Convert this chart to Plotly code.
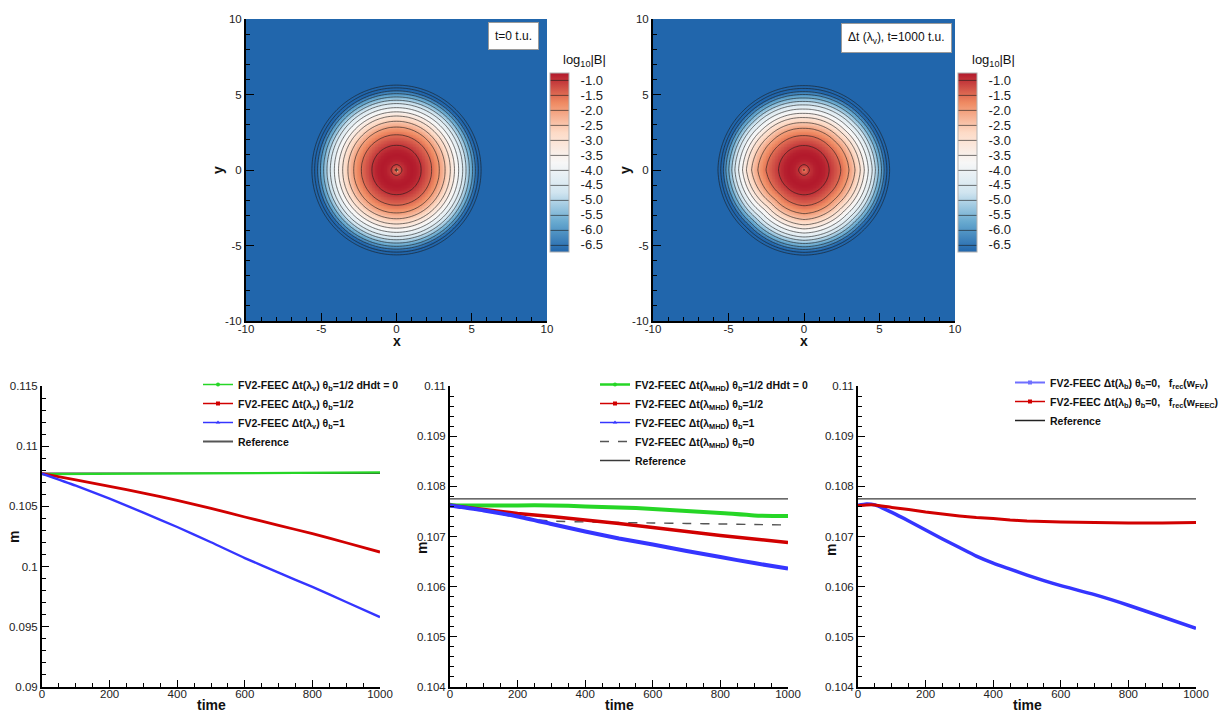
import numpy as np
import plotly.graph_objects as go

W, H = 1226, 715

# ---------------- data: magnetic field contours ----------------
prof_r = [0.0, 0.1, 0.33, 0.7, 1.0, 1.3, 1.64, 2.34, 2.85, 3.23, 3.58, 3.85, 4.13,
          4.40, 4.62, 4.84, 5.06, 5.24, 5.44, 5.62, 5.8, 15.0]
prof_t0 = [-3.0, -1.52, -1.0, -0.80, -0.76, -0.82, -1.0, -1.5, -2.0, -2.5, -3.0, -3.5, -4.0,
           -4.5, -5.0, -5.5, -6.0, -6.5, -7.0, -7.5, -8.0, -8.0]
prof_t1000 = [-1.6, -1.40, -1.0, -0.80, -0.76, -0.82, -1.0, -1.5, -2.0, -2.5, -3.0, -3.5, -4.0,
              -4.5, -5.0, -5.5, -6.0, -6.5, -7.0, -7.5, -8.0, -8.0]
# angular deformation of the rings at t=1000 (relative radius change) and its radial weight
defm_theta = [0, 45, 90, 135, 180, 225, 270, 315, 360]
defm_amp = [-0.045, 0.02, 0.03, 0.0, -0.07, 0.045, -0.015, 0.015, -0.045]
defm_r = [0.0, 1.5, 2.5, 3.5, 4.5, 5.5, 15.0]
defm_w = [0.0, 0.3, 1.0, 1.0, 0.6, 0.2, 0.0]

cb_ticks = [-1.0, -1.5, -2.0, -2.5, -3.0, -3.5, -4.0, -4.5, -5.0, -5.5, -6.0, -6.5]
axis_ticks = [-10, -5, 0, 5, 10]

# ---------------- data: mass m(t) curves ----------------
t11 = [0, 100, 200, 300, 400, 500, 600, 700, 800, 900, 1000]
p1_green = [0.10768, 0.10769, 0.10770, 0.10771, 0.10773, 0.10774, 0.10776, 0.10777, 0.10779, 0.10780, 0.10782]
p1_red = [0.10772, 0.10720, 0.10667, 0.10610, 0.10550, 0.10484, 0.10412, 0.10343, 0.10273, 0.10198, 0.10121]
p1_blue = [0.10772, 0.10672, 0.10564, 0.10448, 0.10329, 0.10202, 0.10071, 0.09950, 0.09831, 0.09706, 0.09581]
p1_ref = [0.10775, 0.10775]

p2_green = [0.10762, 0.10762, 0.10762, 0.10762, 0.10760, 0.10758, 0.10755, 0.10751, 0.10747, 0.10742, 0.10741]
p2_red = [0.10762, 0.10754, 0.10746, 0.10740, 0.10733, 0.10726, 0.10718, 0.10710, 0.10702, 0.10695, 0.10688]
p2_blue = [0.10762, 0.10752, 0.10740, 0.10725, 0.10710, 0.10696, 0.10684, 0.10671, 0.10659, 0.10647, 0.10636]
p2_dash = [0.10766, 0.10752, 0.10738, 0.10731, 0.10729, 0.10728, 0.10727, 0.10726, 0.10725, 0.10724, 0.10723]
p2_ref = [0.10775, 0.10775]

t3 = [0, 25, 50, 100, 150, 200, 250, 300, 350, 400, 450, 500, 550, 600, 700, 800, 900, 1000]
p3_red = [0.10762, 0.10763, 0.10763, 0.10758, 0.10754, 0.10749, 0.10745, 0.10741, 0.10738, 0.10736,
          0.10733, 0.10731, 0.10730, 0.10729, 0.10728, 0.10727, 0.10727, 0.10728]
p3_blue = [0.10762, 0.10765, 0.10763, 0.10748, 0.10731, 0.10713, 0.10695, 0.10678, 0.10661, 0.10647,
           0.10635, 0.10623, 0.10612, 0.10602, 0.10584, 0.10563, 0.10540, 0.10517]
p3_ref = [0.10775, 0.10775]
t_ref = [0, 1000]

# ---------------- helpers ----------------
def px_x(p):
    return p / W

def px_y(p):
    return 1 - p / H

FONT = "Liberation Sans, Arial, Helvetica, sans-serif"
GREEN, RED, BLUE = "#26d626", "#d10000", "#3535ff"

xs = np.linspace(-10, 10, 201)
X, Y = np.meshgrid(xs, xs)
R = np.hypot(X, Y)
TH = np.degrees(np.arctan2(Y, X)) % 360
Z0 = np.interp(R, prof_r, prof_t0)
R_eff = R * (1 + np.interp(TH, defm_theta, defm_amp) * np.interp(R, defm_r, defm_w))
Z1 = np.interp(R_eff, prof_r, prof_t1000)

cscale = [[0.0, "#2166ac"], [1/6, "#67a9cf"], [2/6, "#d1e5f0"], [0.5, "#f7f7f7"],
          [4/6, "#fddbc7"], [5/6, "#ef8a62"], [1.0, "#b2182b"]]

fig = go.Figure()

def add_contour(z, xa, ya, cb_left):
    fig.add_trace(go.Contour(
        x=xs, y=xs, z=z, xaxis=xa, yaxis=ya,
        zmin=-6.75, zmax=-0.75, zauto=False, colorscale=cscale,
        autocontour=False,
        contours=dict(start=-7.5, end=-1.0, size=0.5, coloring="heatmap", showlines=True),
        line=dict(color="rgba(25,25,25,0.75)", width=0.8, smoothing=1),
        hoverinfo="skip",
        colorbar=dict(
            x=px_x(cb_left), xanchor="left", xpad=0, ypad=0,
            y=px_y(162.5), yanchor="middle",
            thickness=19, thicknessmode="pixels", len=179, lenmode="pixels",
            outlinewidth=1, outlinecolor="#b0b0b0",
            tickvals=cb_ticks, ticktext=[f"{v:.1f}" for v in cb_ticks],
            ticks="outside", ticklen=9, tickcolor="rgba(0,0,0,0)",
            tickfont=dict(family=FONT, size=13, color="#222"),
        ),
    ))

add_contour(Z0, "x", "y", 550)
add_contour(Z1, "x2", "y2", 958)

def add_line(x, y, xa, ya, color, width, dash="solid", shape="linear"):
    fig.add_trace(go.Scatter(x=x, y=y, xaxis=xa, yaxis=ya, mode="lines",
                             line=dict(color=color, width=width, dash=dash, shape=shape, smoothing=0.6),
                             showlegend=False, hoverinfo="skip"))

def add_legend(name, color, legend, xa, ya, symbol=None, dash="solid", width=1.5):
    mode = "lines+markers" if symbol else "lines"
    fig.add_trace(go.Scatter(x=[None], y=[None], xaxis=xa, yaxis=ya, mode=mode, name=name,
                             line=dict(color=color, width=width, dash=dash),
                             marker=dict(symbol=symbol or "circle", size=4, color=color),
                             legend=legend, showlegend=True, hoverinfo="skip"))

# panel 3 (bottom left)
add_line(t_ref, p1_ref, "x3", "y3", "#3a3a3a", 1.6)
add_line(t11, p1_green, "x3", "y3", GREEN, 2.2)
add_line(t11, p1_red, "x3", "y3", RED, 2.8, shape="spline")
add_line(t11, p1_blue, "x3", "y3", BLUE, 2.4, shape="spline")
add_legend("FV2-FEEC Δt(λ<sub>v</sub>) θ<sub>b</sub>=1/2 dHdt = 0", GREEN, "legend", "x3", "y3", "circle")
add_legend("FV2-FEEC Δt(λ<sub>v</sub>) θ<sub>b</sub>=1/2", RED, "legend", "x3", "y3", "square")
add_legend("FV2-FEEC Δt(λ<sub>v</sub>) θ<sub>b</sub>=1", BLUE, "legend", "x3", "y3", "triangle-up")
add_legend("Reference", "#555555", "legend", "x3", "y3", None, width=2)

# panel 4 (bottom middle)
add_line(t_ref, p2_ref, "x4", "y4", "#3a3a3a", 1.4)
add_line(t11, p2_dash, "x4", "y4", "#555555", 1.4, "dash", shape="spline")
add_line(t11, p2_green, "x4", "y4", GREEN, 4, shape="spline")
add_line(t11, p2_red, "x4", "y4", RED, 3.5, shape="spline")
add_line(t11, p2_blue, "x4", "y4", BLUE, 4, shape="spline")
add_legend("FV2-FEEC Δt(λ<sub>MHD</sub>) θ<sub>b</sub>=1/2 dHdt = 0", GREEN, "legend2", "x4", "y4", "circle", width=2.5)
add_legend("FV2-FEEC Δt(λ<sub>MHD</sub>) θ<sub>b</sub>=1/2", RED, "legend2", "x4", "y4", "square")
add_legend("FV2-FEEC Δt(λ<sub>MHD</sub>) θ<sub>b</sub>=1", BLUE, "legend2", "x4", "y4", "triangle-up")
add_legend("FV2-FEEC Δt(λ<sub>MHD</sub>) θ<sub>b</sub>=0", "#555555", "legend2", "x4", "y4", None, dash="dash")
add_legend("Reference", "#3a3a3a", "legend2", "x4", "y4", None)

# panel 5 (bottom right)
add_line(t_ref, p3_ref, "x5", "y5", "#3a3a3a", 1.4)
add_line(t3, p3_blue, "x5", "y5", BLUE, 3.5, shape="spline")
add_line(t3, p3_red, "x5", "y5", RED, 3, shape="spline")
sp = "\u00a0\u00a0\u00a0"
add_legend(f"FV2-FEEC Δt(λ<sub>b</sub>) θ<sub>b</sub>=0,{sp}f<sub>rec</sub>(w<sub>FV</sub>)", "#6f6fff", "legend3", "x5", "y5", "square", width=2)
add_legend(f"FV2-FEEC Δt(λ<sub>b</sub>) θ<sub>b</sub>=0,{sp}f<sub>rec</sub>(w<sub>FEEC</sub>)", RED, "legend3", "x5", "y5", "square")
add_legend("Reference", "#222222", "legend3", "x5", "y5", None)

# ---------------- axes ----------------
tickfont = dict(family=FONT, size=11.5, color="#222")

def style_axis(ticklen=7, minor_len=4):
    return dict(showline=True, linewidth=2, linecolor="black", mirror=False,
                ticks="inside", ticklen=ticklen, tickwidth=1.3, tickcolor="black",
                showgrid=False, zeroline=False, tickfont=tickfont,
                minor=dict(ticks="inside", ticklen=minor_len, tickwidth=1, tickcolor="black", showgrid=False))

top_y = [px_y(321), px_y(19)]
for i, (x0, x1) in enumerate([(246, 547), (653, 955)], start=1):
    sfx = "" if i == 1 else str(i)
    xa = style_axis(8, 4)
    xa.update(domain=[px_x(x0), px_x(x1)], range=[-10, 10], tickvals=axis_ticks,
              ticktext=[str(v) for v in axis_ticks], anchor=f"y{sfx}", ticklabelstandoff=-4)
    xa["minor"]["dtick"] = 1
    ya = style_axis(8, 4)
    ya.update(domain=top_y, range=[-10, 10], tickvals=axis_ticks,
              ticktext=[str(v) for v in axis_ticks], anchor=f"x{sfx}")
    ya["minor"]["dtick"] = 1
    fig.layout[f"xaxis{sfx}"] = xa
    fig.layout[f"yaxis{sfx}"] = ya

bot_y = [px_y(687), px_y(386)]
panels = [(3, 42, 380, [0.09, 0.115], 0.005, 0.001),
          (4, 450, 788, [0.104, 0.11], 0.001, 0.0002),
          (5, 858, 1196, [0.104, 0.11], 0.001, 0.0002)]
for k, x0, x1, yr, dt, mdt in panels:
    xa = style_axis(7, 4)
    xa.update(domain=[px_x(x0), px_x(x1)], range=[0, 1000], tick0=0, dtick=200, anchor=f"y{k}",
              ticklabelstandoff=-5)
    xa["minor"].update(dtick=50, tick0=0)
    ya = style_axis(7, 4)
    ya.update(domain=bot_y, range=yr, tick0=yr[0], dtick=dt, anchor=f"x{k}")
    ya["minor"].update(dtick=mdt, tick0=yr[0])
    fig.layout[f"xaxis{k}"] = xa
    fig.layout[f"yaxis{k}"] = ya

# ---------------- legends ----------------
legfont = dict(family=FONT, size=10.5, color="#111", weight="bold")
common_leg = dict(yanchor="top", xanchor="left", bgcolor="rgba(0,0,0,0)", borderwidth=0,
                  font=legfont, itemwidth=30, tracegroupgap=0)
fig.update_layout(
    legend=dict(x=px_x(198), y=px_y(370), **common_leg),
    legend2=dict(x=px_x(595), y=px_y(370), **common_leg),
    legend3=dict(x=px_x(1010), y=px_y(368), **common_leg),
)

# ---------------- annotations ----------------
ann = []
def text(x, y, s, size=13, bold=True, angle=0):
    ann.append(dict(x=px_x(x), y=px_y(y), xref="paper", yref="paper", text=f"<b>{s}</b>" if bold else s,
                    showarrow=False, xanchor="center", yanchor="middle", textangle=angle,
                    font=dict(family=FONT, size=size, color="#111")))

text(397, 341, "x", 14)
text(218, 170, "y", 14, angle=-90)
text(804, 341, "x", 14)
text(625, 170, "y", 14, angle=-90)
text(211, 705, "time", 14)
text(14, 537, "m", 14, angle=-90)
text(619, 705, "time", 14)
text(422, 548, "m", 14, angle=-90)
text(1027, 705, "time", 14)
text(831, 550, "m", 14, angle=-90)
text(584, 60, "log<sub>10</sub>|B|", 13, bold=False)
text(993, 60, "log<sub>10</sub>|B|", 13, bold=False)

for cx, cy, s in [(513.5, 35.5, "t=0 t.u."), (896, 38, "Δt (λ<sub>v</sub>), t=1000 t.u.")]:
    ann.append(dict(x=px_x(cx), y=px_y(cy), xref="paper", yref="paper", text=s, showarrow=False,
                    xanchor="center", yanchor="middle", bgcolor="white", bordercolor="#9a9a9a",
                    borderwidth=1, borderpad=6, font=dict(family=FONT, size=12, color="#111")))

fig.update_layout(
    width=W, height=H,
    margin=dict(l=0, r=0, t=0, b=0, autoexpand=False),
    paper_bgcolor="white", plot_bgcolor="white",
    annotations=ann,
    font=dict(family=FONT, color="#222"),
)

fig.write_html("out.html")
